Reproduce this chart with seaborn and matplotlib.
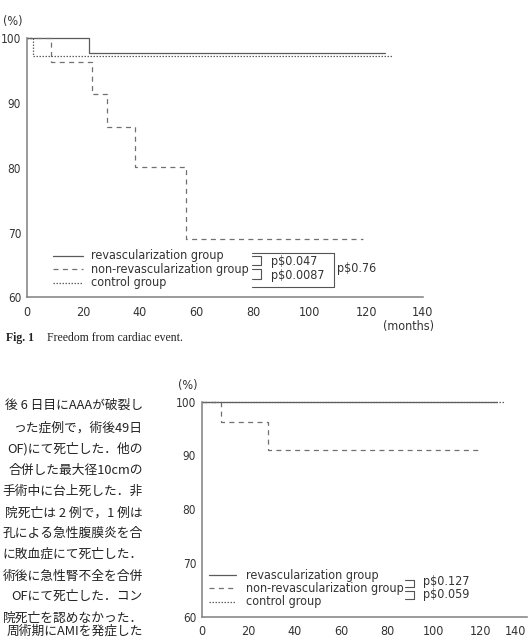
import pandas as pd
import numpy as np
import matplotlib
matplotlib.use("Agg")
import matplotlib.pyplot as plt
from matplotlib.lines import Line2D
import seaborn as sns

# Kaplan-Meier steps (months, % event free)
groups = ["revascularization group", "non-revascularization group", "control group"]

fig1_revasc_t = [0, 22.0, 126.5]
fig1_revasc_s = [100, 97.8, 97.8]
fig1_nonrev_t = [0, 8.6, 23.1, 28.4, 38.2, 56.3, 119.0]
fig1_nonrev_s = [100, 96.4, 91.4, 86.3, 80.2, 69.0, 69.0]
fig1_control_t = [0, 2.4, 129.5]
fig1_control_s = [100, 97.3, 97.3]
fig1_pvals = ["p$0.047", "p$0.0087", "p$0.76"]

fig2_revasc_t = [0, 127.4]
fig2_revasc_s = [100, 100]
fig2_nonrev_t = [0, 8.3, 28.6, 120.3]
fig2_nonrev_s = [100, 96.3, 91.1, 91.1]
fig2_control_t = [0, 130.7]
fig2_control_s = [100, 100]
fig2_pvals = ["p$0.127", "p$0.059"]

x_ticks = [0, 20, 40, 60, 80, 100, 120, 140]
y_ticks = [60, 70, 80, 90, 100]

# visible part of the body text beside the second chart
body_lines = [
    "後 6 日目にAAAが破裂し",
    "った症例で，術後49日",
    "OF)にて死亡した．他の",
    "合併した最大径10cmの",
    "手術中に台上死した．非",
    "院死亡は 2 例で，1 例は",
    "孔による急性腹膜炎を合",
    "に敗血症にて死亡した．",
    "術後に急性腎不全を合併",
    "OFにて死亡した．コン",
    "院死亡を認めなかった．",
    "周術期にAMIを発症した",
]


def km_frame(parts):
    rows = []
    for name, t, s in parts:
        for ti, si in zip(t, s):
            rows.append({"month": ti, "pct": si, "group": name})
    return pd.DataFrame(rows)


df1 = km_frame([(groups[0], fig1_revasc_t, fig1_revasc_s),
                (groups[1], fig1_nonrev_t, fig1_nonrev_s),
                (groups[2], fig1_control_t, fig1_control_s)])
df2 = km_frame([(groups[0], fig2_revasc_t, fig2_revasc_s),
                (groups[1], fig2_nonrev_t, fig2_nonrev_s),
                (groups[2], fig2_control_t, fig2_control_s)])

sns.set_style("white")
plt.rcParams["font.family"] = ["DejaVu Sans", "Noto Sans CJK JP"]
plt.rcParams["font.stretch"] = "condensed"

W, H = 528, 638
fig = plt.figure(figsize=(W / 100, H / 100), dpi=100)
fig.patch.set_facecolor("white")


def fx(x):
    return x / W


def fy(y):
    return 1 - y / H


line_col = "#5a5a5a"
axis_col = "#808080"
text_col = "#333333"
FS = 9
palette = {groups[0]: line_col, groups[1]: "#707070", groups[2]: "#606060"}
dashes = {groups[0]: "", groups[1]: (4, 3.5), groups[2]: (1.2, 1.2)}
ls_map = {groups[0]: "-", groups[1]: (0, (4, 3.5)), groups[2]: (0, (1.2, 1.2))}


def km_axes(rect, df):
    ax = fig.add_axes(rect)
    sns.lineplot(data=df, x="month", y="pct", hue="group", style="group",
                 palette=palette, dashes=dashes, estimator=None, sort=False,
                 drawstyle="steps-post", linewidth=0.9, legend=False, ax=ax)
    for ln in ax.lines:
        ln.set_clip_on(False)
    ax.set_xlim(0, 140)
    ax.set_ylim(60, 100)
    ax.set_xticks(x_ticks)
    ax.set_yticks(y_ticks)
    ax.set_xlabel("")
    ax.set_ylabel("")
    sns.despine(ax=ax)
    for sp in ["left", "bottom"]:
        ax.spines[sp].set_color(axis_col)
        ax.spines[sp].set_linewidth(1.1)
    ax.tick_params(axis="both", direction="out", color=axis_col, width=1,
                   labelcolor=text_col)
    ax.tick_params(axis="x", length=4, pad=2, labelsize=FS)
    ax.tick_params(axis="y", length=2.5, pad=1.5, labelsize=8.5)
    ax.set_facecolor("none")
    return ax


ax1 = km_axes([fx(26.7), fy(297.3), (422.7 - 26.7) / W, (297.3 - 38.3) / H], df1)
ax2 = km_axes([fx(201.7), fy(616.7), (526.5 - 201.7) / W, (616.7 - 401.7) / H], df2)
# the last tick label of the lower chart sits on the page edge
for lab in ax2.get_xticklabels():
    if lab.get_text() == "140":
        lab.set_horizontalalignment("right")


def seg(x0, y0, x1, y1, **kw):
    fig.add_artist(Line2D([fx(x0), fx(x1)], [fy(y0), fy(y1)],
                          color=kw.get("color", "#555555"),
                          linewidth=kw.get("lw", 0.8),
                          linestyle=kw.get("ls", "-")))


def legend_block(x_line, x_text, rows_y):
    for name, y in zip(groups, rows_y):
        seg(x_line[0], y, x_line[1], y, color=palette[name], lw=0.9, ls=ls_map[name])
        fig.text(fx(x_text), fy(y), name, fontsize=FS, color=text_col,
                 ha="left", va="center")


def bracket(x0, x1, y0, y1):
    seg(x0, y0, x1, y0)
    seg(x1, y0, x1, y1)
    seg(x1, y1, x0, y1)


# Fig. 1 legend and p values
legend_block((52.7, 82.7), 91, [256, 269.3, 282.7])
bracket(252, 261, 256, 264.5)
bracket(252, 261, 269, 279)
seg(252, 253, 334, 253)
seg(334, 253, 334, 287)
seg(334, 287, 252, 287)
fig.text(fx(271), fy(261.5), fig1_pvals[0], fontsize=FS, color=text_col, va="center")
fig.text(fx(271), fy(276), fig1_pvals[1], fontsize=FS, color=text_col, va="center")
fig.text(fx(337), fy(268.5), fig1_pvals[2], fontsize=FS, color=text_col, va="center")

# second chart legend and p values
legend_block((209, 236), 245.7, [575, 588.3, 601.7])
bracket(405, 414, 579.5, 587)
bracket(405, 414, 590.5, 598.5)
fig.text(fx(423), fy(581), fig2_pvals[0], fontsize=FS, color=text_col, va="center")
fig.text(fx(423), fy(594.5), fig2_pvals[1], fontsize=FS, color=text_col, va="center")

# axis unit labels
fig.text(fx(12.5), fy(21), "(%)", fontsize=FS, color=text_col, ha="center", va="center")
fig.text(fx(409), fy(326.5), "(months)", fontsize=FS, color=text_col, ha="center", va="center")
fig.text(fx(187.5), fy(385), "(%)", fontsize=FS, color=text_col, ha="center", va="center")

# caption
fig.text(fx(6), fy(338), "Fig. 1", fontsize=8.5, fontweight="bold",
         family="Liberation Serif", fontstretch="normal", color="#222222",
         ha="left", va="center")
fig.text(fx(47), fy(338), "Freedom from cardiac event.", fontsize=8.5,
         family="Liberation Serif", fontstretch="normal", color="#222222",
         ha="left", va="center")

# body text on the left of the second chart
body_y = [405.7, 427.7, 448.3, 470, 491, 512.7, 533.3, 554.3, 576.7, 596.7, 618.3, 631.5]
for txt, y in zip(body_lines, body_y):
    fig.text(fx(143), fy(y), txt, fontsize=9.2, color="#222222", ha="right",
             va="center", family=["Noto Sans CJK JP", "DejaVu Sans"],
             fontstretch="normal")

fig.savefig("out.png", dpi=100, facecolor="white")
